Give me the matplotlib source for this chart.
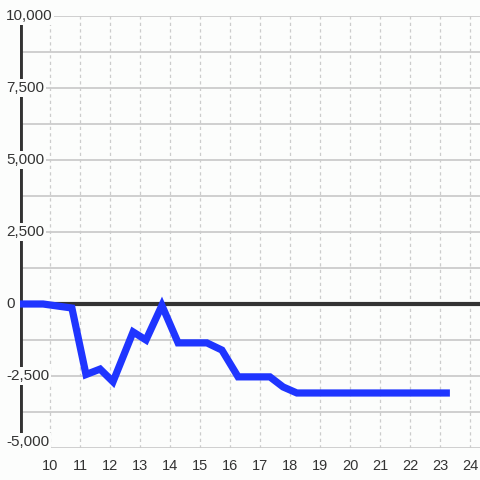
import matplotlib
matplotlib.use("Agg")
import matplotlib.pyplot as plt

# Data
hours = [9.0, 9.77, 10.73, 11.2, 11.67, 12.1, 12.77, 13.2, 13.73, 14.27,
         15.23, 15.73, 16.27, 17.33, 17.77, 18.23, 23.33]
values = [0, 0, -140, -2450, -2260, -2700, -970, -1250, -50, -1350,
          -1350, -1600, -2530, -2530, -2880, -3090, -3090]
y_ticks = [-5000, -2500, 0, 2500, 5000, 7500, 10000]
y_labels = ["-5,000", "-2,500", "0", "2,500", "5,000", "7,500", "10,000"]
x_ticks = list(range(10, 25))

plt.rcParams['font.family'] = ['Liberation Sans', 'DejaVu Sans']
bg = '#fcfdfc'
fig = plt.figure(figsize=(4.8, 4.8), dpi=100, facecolor=bg)
ax = fig.add_axes([20/480, 32/480, 460/480, 432/480], facecolor=bg)

ax.set_xlim(9.0, 9.0 + 460/30)
ax.set_ylim(-5000, 10000)

# grid
for yv in range(-5000, 10001, 1250):
    ax.axhline(yv, color='#c8c8c8', lw=1.2, zorder=1)
for xv in x_ticks:
    ax.axvline(xv, color='#cccccc', lw=0.9, ls=(0, (2.6, 2.6)), zorder=1)
ax.axhline(0, color='#333333', lw=3, zorder=2)
ax.axvline(9.0, color='#333333', lw=3.5, zorder=2)

ax.plot(hours, values, color='#1f35ff', lw=5.2, solid_joinstyle='miter',
        solid_capstyle='butt', zorder=3, clip_on=False)

for s in ax.spines.values():
    s.set_visible(False)
ax.set_yticks([])
ax.set_xticks(x_ticks)
ax.set_xticklabels([str(x) for x in x_ticks], fontsize=10.5, color='#333333')
ax.tick_params(axis='x', length=0, pad=8)

for yv, lab in zip(y_ticks, y_labels):
    dy = 6 if yv == -5000 else 0
    ax.annotate(lab, xy=(0, yv), xycoords=('figure pixels', 'data'),
                xytext=(6, dy), textcoords='offset pixels',
                ha='left', va='center', fontsize=11, color='#333333',
                bbox=dict(boxstyle='square,pad=0.1', fc=bg, ec='none'),
                zorder=5, annotation_clip=False)

fig.savefig('out.png', dpi=100, facecolor=bg)
